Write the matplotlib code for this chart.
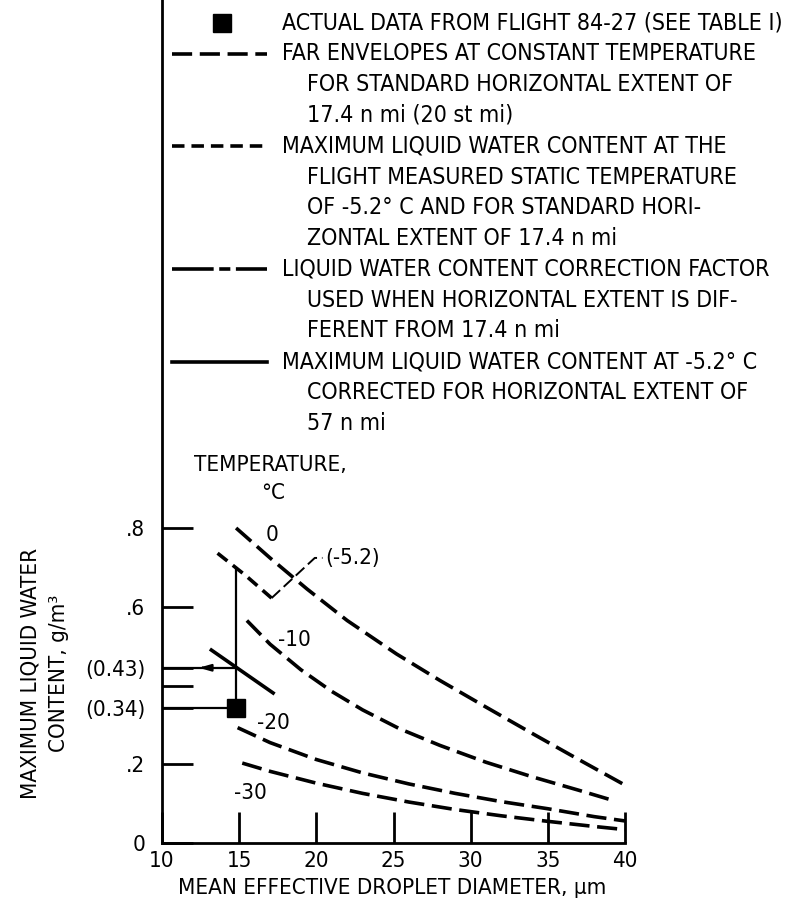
import matplotlib
matplotlib.use('Agg')
import matplotlib.pyplot as plt
from matplotlib.lines import Line2D

plt.rcParams['font.family'] = ['DejaVu Sans']
plt.rcParams['font.stretch'] = 'condensed'

# curves (droplet diameter um, LWC g/m3)
t0_x = [14.8, 17.0, 19.4, 22.0, 25.2, 28.0, 31.0, 34.0, 37.0, 40.0]
t0_y = [0.800, 0.724, 0.645, 0.565, 0.480, 0.413, 0.345, 0.278, 0.212, 0.147]
t10_x = [15.5, 17.0, 19.0, 21.0, 23.0, 25.4, 28.0, 31.0, 34.0, 37.0, 39.4]
t10_y = [0.565, 0.505, 0.440, 0.385, 0.338, 0.290, 0.248, 0.205, 0.168, 0.134, 0.106]
t20_x = [14.9, 17.0, 20.0, 23.0, 26.0, 29.0, 32.0, 35.0, 38.0, 40.0]
t20_y = [0.293, 0.255, 0.212, 0.178, 0.150, 0.126, 0.105, 0.087, 0.067, 0.056]
t30_x = [15.2, 17.0, 20.0, 23.0, 26.0, 29.0, 32.0, 35.0, 38.0, 40.0]
t30_y = [0.203, 0.182, 0.152, 0.126, 0.104, 0.085, 0.069, 0.055, 0.042, 0.034]
t52_x = [13.6, 15.4, 17.1]
t52_y = [0.736, 0.680, 0.622]
corr_x = [13.2, 17.2]
corr_y = [0.490, 0.381]

flight_med = 14.8
flight_lwc = 0.343
lwc_57 = 0.445
lwc_top = 0.698

curve_labels = ['0', '-10', '-20', '-30']
label_pos = [(17.1, 0.782), (18.6, 0.515), (17.2, 0.305), (15.7, 0.127)]

x_ticks = [10, 15, 20, 25, 30, 35, 40]
y_ticks = [0, 0.2, 0.4, 0.6, 0.8, lwc_57, flight_lwc]
y_ticklabels = ['0', '.2', '', '.6', '.8', '(0.43)', '(0.34)']

legend_rows = [
    'ACTUAL DATA FROM FLIGHT 84-27 (SEE TABLE I)',
    'FAR ENVELOPES AT CONSTANT TEMPERATURE',
    '  FOR STANDARD HORIZONTAL EXTENT OF',
    '  17.4 n mi (20 st mi)',
    'MAXIMUM LIQUID WATER CONTENT AT THE',
    '  FLIGHT MEASURED STATIC TEMPERATURE',
    '  OF -5.2° C AND FOR STANDARD HORI-',
    '  ZONTAL EXTENT OF 17.4 n mi',
    'LIQUID WATER CONTENT CORRECTION FACTOR',
    '  USED WHEN HORIZONTAL EXTENT IS DIF-',
    '  FERENT FROM 17.4 n mi',
    'MAXIMUM LIQUID WATER CONTENT AT -5.2° C',
    '  CORRECTED FOR HORIZONTAL EXTENT OF',
    '  57 n mi',
]

W, H = 797, 909
fs = 16
fs_leg = 16.6

def fig_xy(px, py):
    return px / W, 1 - py / H

fig = plt.figure(figsize=(W / 100, H / 100), dpi=100)
ax = fig.add_axes([162 / W, 66 / H, 463 / W, 843 / H])
ax.set_xlim(10, 40)
ax.set_ylim(0, 0.8 * 843 / 315)

for s in ['top', 'right']:
    ax.spines[s].set_visible(False)
for s in ['left', 'bottom']:
    ax.spines[s].set_linewidth(2.0)

lw = 2.6
long_dash = (14.5 / lw, 5.5 / lw)
short_dash = (9 / lw, 5 / lw)
ax.plot(t0_x, t0_y, color='black', lw=lw, dashes=long_dash)
ax.plot(t10_x, t10_y, color='black', lw=lw, dashes=long_dash)
ax.plot(t20_x, t20_y, color='black', lw=lw, dashes=long_dash)
ax.plot(t30_x, t30_y, color='black', lw=lw, dashes=long_dash)
ax.plot(t52_x, t52_y, color='black', lw=lw, dashes=short_dash)
ax.plot(corr_x, corr_y, color='black', lw=lw)

# flight point and reading lines
ax.plot([flight_med, flight_med], [flight_lwc, lwc_top], color='black', lw=1.6)
ax.plot([10, flight_med], [lwc_57, lwc_57], color='black', lw=1.6)
ax.plot([10, flight_med], [flight_lwc, flight_lwc], color='black', lw=1.6)
ax.annotate('', xy=(12.2, lwc_57), xytext=(13.0, lwc_57),
            arrowprops=dict(arrowstyle='-|>,head_length=0.7,head_width=0.2',
                            color='black', lw=1.6))
ax.plot([flight_med], [flight_lwc], marker='s', color='black', ms=13, ls='none')

# leader for the -5.2 curve
ax.plot([t52_x[-1], 19.9, 20.4], [t52_y[-1], 0.724, 0.724], color='black',
        lw=1.4, dashes=(6, 2.5))
ax.text(20.6, 0.724, '(-5.2)', fontsize=fs, ha='left', va='center')

for lab, (lx, ly) in zip(curve_labels, label_pos):
    ax.text(lx, ly, lab, fontsize=fs, ha='center', va='center')
ax.text(17.0, 0.96, 'TEMPERATURE,', fontsize=fs, ha='center', va='center')
ax.text(17.2, 0.889, '°C', fontsize=fs, ha='center', va='center')

ax.set_xticks(x_ticks)
ax.set_xticklabels([str(v) for v in x_ticks], fontsize=fs)
ax.set_yticks(y_ticks)
ax.set_yticklabels(y_ticklabels, fontsize=fs)
ax.tick_params(axis='both', direction='in', length=22, width=2.0)
ax.tick_params(axis='x', pad=6)
ax.tick_params(axis='y', pad=12)

ax.text(24.9, -0.115, 'MEAN EFFECTIVE DROPLET DIAMETER, µm', fontsize=fs,
        ha='center', va='center')
fx, fy = fig_xy(45, 673)
fig.text(fx, fy, 'MAXIMUM LIQUID WATER\nCONTENT, g/m³', fontsize=fs, rotation=90,
         ha='center', va='center', multialignment='center', linespacing=1.55)

# legend block at the top
row_y = [23 + 30.8 * i for i in range(len(legend_rows))]
for i, txt in enumerate(legend_rows):
    indent = txt.startswith('  ')
    tx, ty = fig_xy(307 if indent else 282, row_y[i])
    fig.text(tx, ty, txt.strip(), fontsize=fs_leg, ha='left', va='center')

mx, my = fig_xy(222, row_y[0])
fig.add_artist(Line2D([mx], [my], marker='s', color='black', ms=13))
samples = {1: long_dash, 4: short_dash, 8: (30 / lw, 4 / lw, 8 / lw, 4 / lw), 11: None}
for r, d in samples.items():
    x0, y0 = fig_xy(172, row_y[r])
    x1, _ = fig_xy(267, row_y[r])
    ln = Line2D([x0, x1], [y0, y0], color='black', lw=lw)
    if d is not None:
        ln.set_dashes(d)
    fig.add_artist(ln)

fig.savefig('out.png', dpi=100)
